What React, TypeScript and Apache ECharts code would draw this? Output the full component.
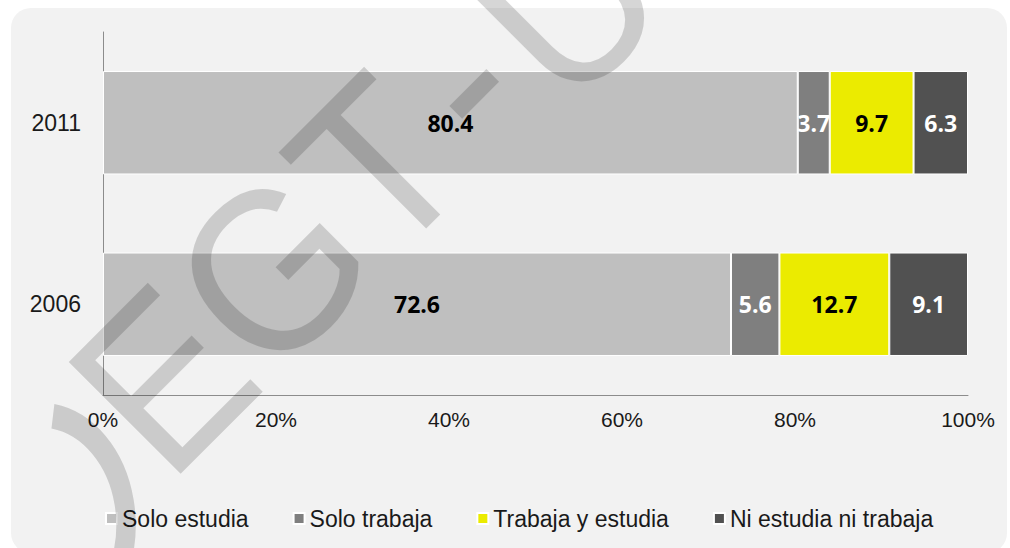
import React, { useEffect, useRef } from "react";
import * as echarts from "echarts";

const years = ["2011", "2006"];
const soloEstudia = [80.4, 72.6];
const soloTrabaja = [3.7, 5.6];
const trabajaEstudia = [9.7, 12.7];
const niEstudia = [6.3, 9.1];
const xTicks = [0, 20, 40, 60, 80, 100];

const seriesDefs = [
  { name: "Solo estudia", values: soloEstudia, color: "#bfbfbf", label: "#000000" },
  { name: "Solo trabaja", values: soloTrabaja, color: "#7f7f7f", label: "#ffffff" },
  { name: "Trabaja y estudia", values: trabajaEstudia, color: "#ebeb00", label: "#000000" },
  { name: "Ni estudia ni trabaja", values: niEstudia, color: "#515151", label: "#ffffff" },
];

export default function App() {
  const ref = useRef<HTMLDivElement>(null);
  useEffect(() => {
    if (!ref.current) return;
    const chart = echarts.init(ref.current, null, { renderer: "svg" });
    const totals = years.map((_, i) => seriesDefs.reduce((s, d) => s + d.values[i], 0));
    const wm = "rgba(0,0,0,0.16)";
    const wmText = (text: string, x: number, y: number) => ({
      type: "text",
      z: 100,
      silent: true,
      x,
      y,
      rotation: Math.PI / 4,
      scaleX: 0.93,
      style: {
        text,
        font: 'normal 230px "Liberation Sans"',
        fill: wm,
        align: "left",
        verticalAlign: "middle",
      },
    });
    chart.setOption({
      animation: false,
      backgroundColor: "#ffffff",
      grid: { left: 103, right: 42, top: 32, bottom: 153 },
      xAxis: {
        type: "value",
        min: xTicks[0],
        max: xTicks[xTicks.length - 1],
        interval: 20,
        axisLine: { show: true, lineStyle: { color: "#8c8c8c", width: 1 } },
        axisTick: { show: false },
        splitLine: { show: false },
        axisLabel: {
          formatter: "{value}%",
          fontFamily: "Liberation Sans",
          fontSize: 21,
          color: "#1a1a1a",
          margin: 14,
        },
      },
      yAxis: {
        type: "category",
        data: years,
        inverse: true,
        axisLine: { show: true, lineStyle: { color: "#8c8c8c", width: 1 } },
        axisTick: { show: false },
        axisLabel: {
          fontFamily: "Liberation Sans",
          fontSize: 23,
          color: "#1a1a1a",
          margin: 22,
        },
      },
      legend: {
        left: 100,
        top: 502,
        icon: "rect",
        itemWidth: 11,
        itemHeight: 11,
        itemGap: 44,
        textStyle: { fontFamily: "Liberation Sans", fontSize: 23, color: "#1a1a1a" },
        data: seriesDefs.map((d) => d.name),
      },
      series: seriesDefs.map((d) => ({
        name: d.name,
        type: "bar",
        stack: "total",
        barCategoryGap: "43%",
        itemStyle: { color: d.color, borderColor: "#ffffff", borderWidth: 1 },
        label: {
          show: true,
          position: "inside",
          color: d.label,
          fontFamily: "Open Sans",
          fontWeight: "bold",
          fontSize: 23,
          formatter: (p: any) => d.values[p.dataIndex].toFixed(1),
        },
        data: d.values.map((v, i) => (v / totals[i]) * 100),
      })),
      graphic: [
        {
          type: "rect",
          z: -100,
          silent: true,
          shape: { x: 11, y: 8, width: 996, height: 545, r: 20 },
          style: { fill: "#f2f2f2" },
        },
        {
          type: "arc",
          z: 100,
          silent: true,
          x: 40,
          y: 525,
          scaleX: 0.86,
          scaleY: 1.1,
          shape: { cx: 0, cy: 0, r: 100, startAngle: -1.42, endAngle: 1.0, clockwise: true },
          style: { stroke: wm, fill: null, lineWidth: 22, strokeNoScale: true },
        },
        wmText("EGT", 112, 430),
        wmText("-", 436, 106),
        wmText("U", 512, 58),
      ],
    });
    return () => chart.dispose();
  }, []);
  return (
    <div
      ref={ref}
      style={{ position: "fixed", left: 0, top: 0, width: 1010, height: 548 }}
    />
  );
}
